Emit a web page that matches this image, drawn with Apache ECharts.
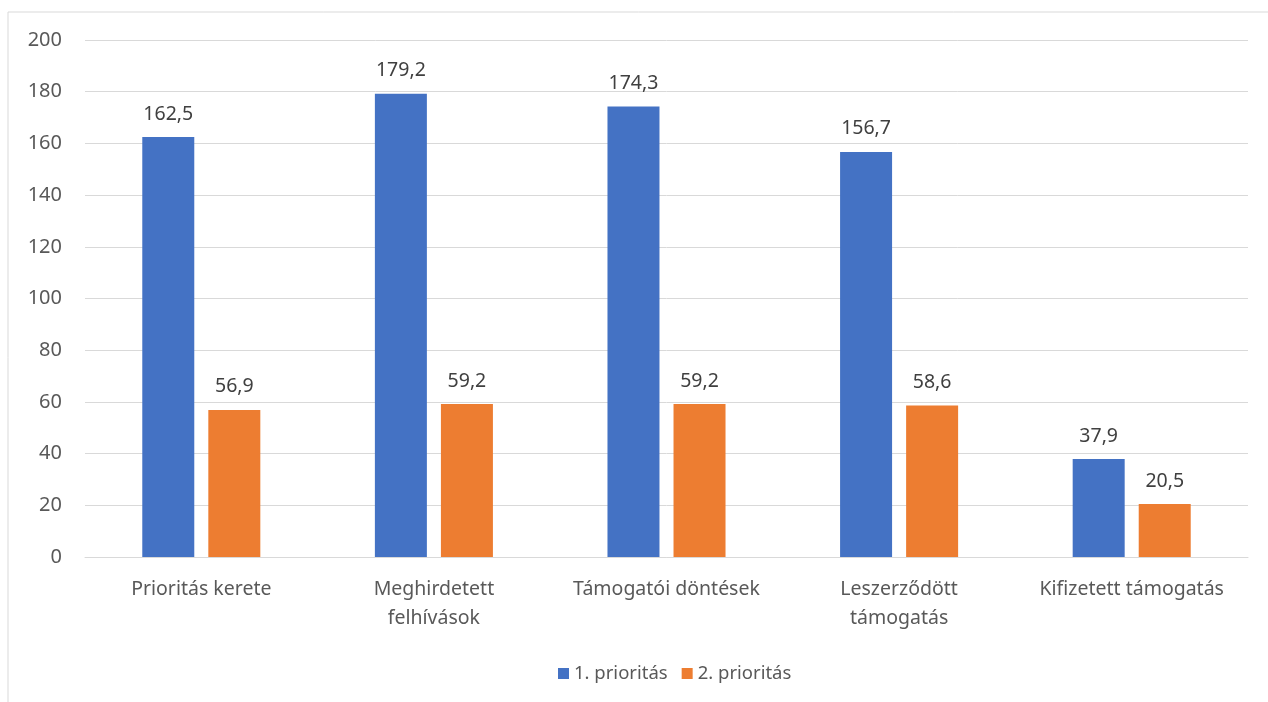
<!DOCTYPE html>
<html><head><meta charset="utf-8">
<script src="https://cdn.jsdelivr.net/npm/echarts@6/dist/echarts.min.js"></script>
<style>html,body{margin:0;padding:0;background:#fff}#c{width:1268px;height:702px}</style>
</head><body><div id="c"></div>
<script>
const categories = ['Prioritás kerete', 'Meghirdetett\nfelhívások', 'Támogatói döntések', 'Leszerződött\ntámogatás', 'Kifizetett támogatás'];
const seriesNames = ['1. prioritás', '2. prioritás'];
const prio1 = [162.5, 179.2, 174.3, 156.7, 37.9];
const prio2 = [56.9, 59.2, 59.2, 58.6, 20.5];
const colors = ['#4472C4', '#ED7D31'];
const font = 'Noto Sans';
const fmt = p => String(p.value).replace('.', ',');
const chart = echarts.init(document.getElementById('c'));
chart.setOption({
  animation: false,
  textStyle: { fontFamily: font },
  graphic: [{ type: 'rect', shape: { x: 8, y: 12, width: 1300, height: 800 }, style: { fill: 'none', stroke: '#d9d9d9', lineWidth: 1 } }],
  grid: { left: 85, right: 20, top: 40, bottom: 145, containLabel: false },
  legend: {
    top: 659, left: 553, itemWidth: 11, itemHeight: 11, itemGap: 14, icon: 'rect',
    textStyle: { color: '#595959', fontSize: 18.5, fontFamily: font }, data: seriesNames
  },
  xAxis: {
    type: 'category', data: categories,
    axisLine: { lineStyle: { color: '#d9d9d9' } }, axisTick: { show: false },
    axisLabel: { color: '#595959', fontSize: 19.5, margin: 18, lineHeight: 29, interval: 0 }
  },
  yAxis: {
    type: 'value', min: 0, max: 200, interval: 20,
    axisLabel: { color: '#595959', fontSize: 20, margin: 23 },
    splitLine: { lineStyle: { color: '#d9d9d9' } }, axisLine: { show: false }
  },
  series: [
    { name: seriesNames[0], type: 'bar', data: prio1, barWidth: 52, barGap: '27%', itemStyle: { color: colors[0] },
      label: { show: true, position: 'top', distance: 13, color: '#404040', fontSize: 19.5, formatter: fmt } },
    { name: seriesNames[1], type: 'bar', data: prio2, barWidth: 52, barGap: '27%', itemStyle: { color: colors[1] },
      label: { show: true, position: 'top', distance: 13, color: '#404040', fontSize: 19.5, formatter: fmt } }
  ]
});
</script></body></html>
